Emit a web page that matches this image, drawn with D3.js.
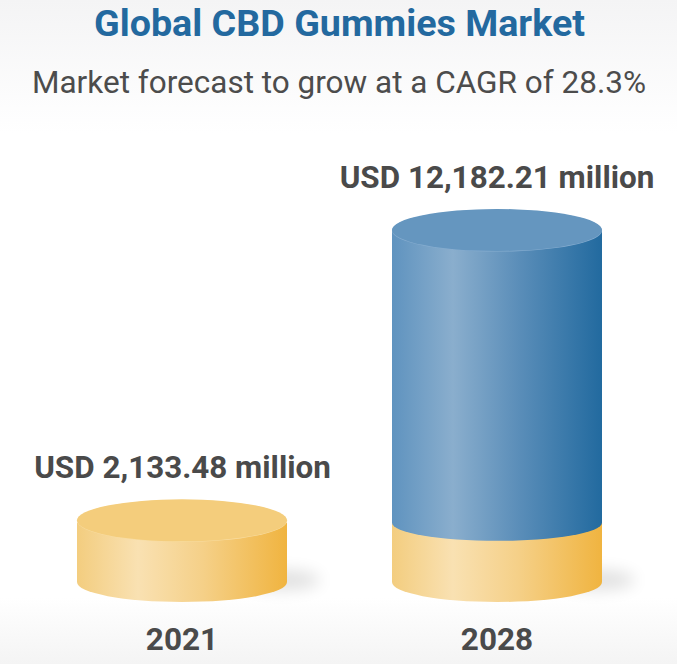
<!DOCTYPE html>
<html>
<head>
<meta charset="utf-8">
<script src="https://d3js.org/d3.v7.min.js"></script>
<style>
html, body { margin: 0; padding: 0; background: #fff; }
svg { display: block; }
text { font-family: Roboto, sans-serif; }
</style>
</head>
<body>
<div id="chart"></div>
<script>
const years = ["2021", "2028"];
const values = [2133.48, 12182.21];
const valueLabels = ["USD 2,133.48 million", "USD 12,182.21 million"];
const baseValue = 2050; // gold part at the foot of the forecast cylinder
const titleText = "Global CBD Gummies Market";
const subtitleText = "Market forecast to grow at a CAGR of 28.3%";

const width = 677, height = 664;
const rx = 105, ry = 21;

const svg = d3.select("#chart").append("svg")
    .attr("width", width)
    .attr("height", height);

const defs = svg.append("defs");

function addGradient(id, stops, vertical) {
    const g = defs.append("linearGradient").attr("id", id)
        .attr("x1", 0).attr("y1", 0)
        .attr("x2", vertical ? 0 : 1).attr("y2", vertical ? 1 : 0);
    stops.forEach(s => g.append("stop").attr("offset", s[0]).attr("stop-color", s[1]));
}

addGradient("bg", [[0, "#f4f4f5"], [0.2, "#ffffff"], [0.9, "#ffffff"], [1, "#f4f4f4"]], true);
addGradient("goldSide", [[0, "#f3cd7f"], [0.29, "#f9e1b2"], [0.6, "#f5d088"], [1, "#f0b440"]]);
addGradient("blueSide", [[0, "#5f93bf"], [0.29, "#8aaecd"], [0.6, "#5b8eb9"], [1, "#226a9f"]]);

defs.append("filter").attr("id", "blur")
    .attr("x", "-50%").attr("y", "-100%").attr("width", "200%").attr("height", "300%")
    .append("feGaussianBlur").attr("stdDeviation", 8);

svg.append("rect").attr("width", width).attr("height", height).attr("fill", "url(#bg)");

const x = d3.scalePoint().domain(years).range([182, 497]);
const y = d3.scaleLinear().domain([0, values[1]]).range([582, 230]);

// side wall between two levels, curved along its lower edge
function sidePath(cx, yTop, yBottom, ryBottom) {
    return `M${cx - rx},${yTop}L${cx + rx},${yTop}L${cx + rx},${yBottom}` +
        `A${rx},${ryBottom} 0 0 1 ${cx - rx},${yBottom}Z`;
}

years.forEach((year, i) => {
    const cx = x(year);
    const g = svg.append("g");

    // shadow on the floor, the cylinder covers its left half
    g.append("ellipse")
        .attr("cx", cx + 100).attr("cy", y(0) - 2)
        .attr("rx", 38).attr("ry", 10)
        .attr("fill", "#000").attr("opacity", 0.12)
        .attr("filter", "url(#blur)");

    g.append("path")
        .attr("d", sidePath(cx, y(baseValue), y(0), ry - 1))
        .attr("fill", "url(#goldSide)");

    if (values[i] > baseValue * 2) {
        g.append("path")
            .attr("d", sidePath(cx, y(values[i]), y(baseValue), ry - 3))
            .attr("fill", "url(#blueSide)");
    }

    // light rim on the front edge of the lid
    g.append("ellipse")
        .attr("cx", cx).attr("cy", y(values[i]) + 0.6)
        .attr("rx", rx).attr("ry", ry)
        .attr("fill", i === 0 ? "#f8dca0" : "#86add0");

    g.append("ellipse")
        .attr("cx", cx).attr("cy", y(values[i]))
        .attr("rx", rx).attr("ry", ry)
        .attr("fill", i === 0 ? "#f4cd7c" : "#6596bf");

    svg.append("text")
        .attr("x", i === 0 ? 182.5 : 497).attr("y", i === 0 ? 478 : 188)
        .attr("text-anchor", "middle")
        .attr("font-size", 31.4).attr("font-weight", 700).attr("fill", "#4a4a4a")
        .text(valueLabels[i]);

    svg.append("text")
        .attr("x", cx).attr("y", 650)
        .attr("text-anchor", "middle")
        .attr("font-size", 31.5).attr("font-weight", 700).attr("fill", "#4a4a4a")
        .text(year);
});

svg.append("text")
    .attr("x", 339.5).attr("y", 36)
    .attr("text-anchor", "middle")
    .attr("font-size", 36.5).attr("font-weight", 700).attr("fill", "#23699f")
    .attr("textLength", 491).attr("lengthAdjust", "spacingAndGlyphs")
    .text(titleText);

svg.append("text")
    .attr("x", 339).attr("y", 93)
    .attr("text-anchor", "middle")
    .attr("font-size", 31.5).attr("font-weight", 400).attr("fill", "#4c4c4c")
    .text(subtitleText);
</script>
</body>
</html>
